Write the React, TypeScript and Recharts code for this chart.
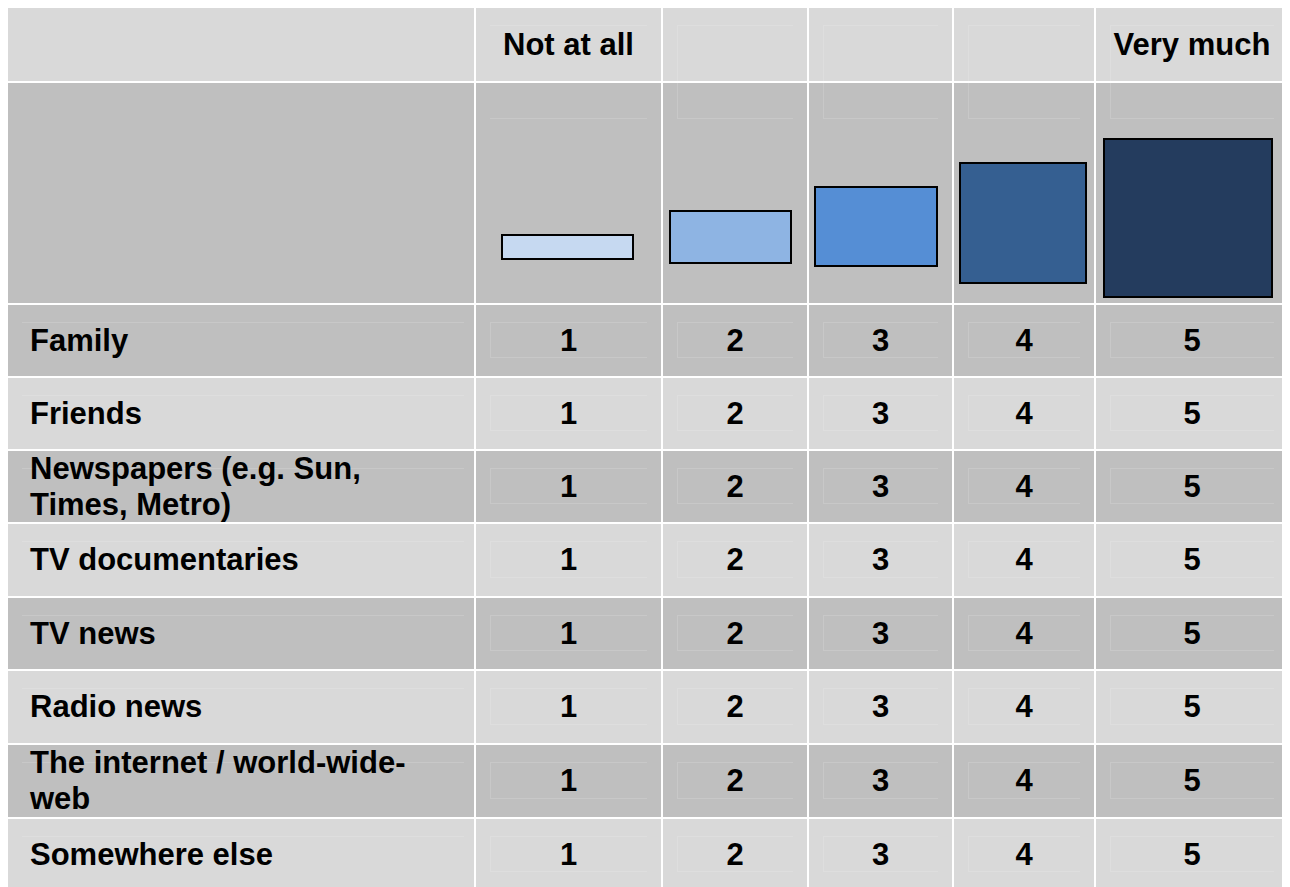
import React from "react";
import { BarChart, Bar, XAxis, YAxis } from "recharts";

// rating scale, columns left to right
const levels = [1, 2, 3, 4, 5];
const scaleLabels = ["Not at all", "", "", "", "Very much"];

// the little stepped blocks in the header (low / high end, in row units 0..220)
const blockLow = [44, 40, 37, 20, 6];
const blockHigh = [68, 92, 116, 140, 164];
const blockColors = ["#c6d9f1", "#8eb4e3", "#558ed5", "#355f91", "#243c5e"];

const sources = [
  "Family",
  "Friends",
  "Newspapers (e.g. Sun,\nTimes, Metro)",
  "TV documentaries",
  "TV news",
  "Radio news",
  "The internet / world-wide-\nweb",
  "Somewhere else",
];

const COL_W = [466, 185, 144, 143, 140, 192];
const ROW_H = [73, 220, 71, 71, 71, 72, 71, 72, 72, 71];
const BAR_MARGIN = [
  { left: 26, right: 28 },
  { left: 7, right: 16 },
  { left: 6, right: 15 },
  { left: 6, right: 8 },
  { left: 8, right: 16 },
];

const LIGHT = "#d9d9d9";
const DARK = "#bfbfbf";

const textStyle: React.CSSProperties = {
  fontFamily: '"Liberation Sans", Arial, sans-serif',
  fontWeight: 700,
  fontSize: 31,
  color: "#000",
};

function Ghost({ style }: { style: React.CSSProperties }) {
  return (
    <div
      style={{
        position: "absolute",
        borderColor: "rgba(255,255,255,0.14)",
        borderStyle: "solid",
        borderWidth: 0,
        pointerEvents: "none",
        ...style,
      }}
    />
  );
}

function LevelBlock({ i }: { i: number }) {
  const data = [{ level: levels[i], range: [blockLow[i], blockHigh[i]] }];
  return (
    <BarChart
      width={COL_W[i + 1]}
      height={ROW_H[1]}
      data={data}
      margin={{ top: 0, bottom: 0, ...BAR_MARGIN[i] }}
      barCategoryGap={0}
    >
      <XAxis dataKey="level" hide />
      <YAxis hide domain={[0, ROW_H[1]]} />
      <Bar
        dataKey="range"
        fill={blockColors[i]}
        stroke="#000"
        strokeWidth={2}
        isAnimationActive={false}
      />
    </BarChart>
  );
}

export default function App() {
  const cell = (bg: string, extra?: React.CSSProperties): React.CSSProperties => ({
    position: "relative",
    background: bg,
    overflow: "hidden",
    ...extra,
  });

  return (
    <div
      style={{
        display: "grid",
        gridTemplateColumns: COL_W.map((w) => `${w}px`).join(" "),
        gridTemplateRows: ROW_H.map((h) => `${h}px`).join(" "),
        gap: 2,
        width: COL_W.reduce((a, b) => a + b, 0) + 10,
        background: "#fff",
        ...textStyle,
      }}
    >
      {/* header row */}
      <div style={cell(LIGHT)} />
      {scaleLabels.map((lab, i) => (
        <div
          key={`h${i}`}
          style={cell(LIGHT, { display: "flex", alignItems: "center", justifyContent: "center" })}
        >
          <Ghost
            style={{ top: 17, left: 14, right: 14, bottom: 0, borderTopWidth: 1, borderLeftWidth: i === 0 ? 0 : 1 }}
          />
          <span style={{ position: "relative" }}>{lab}</span>
        </div>
      ))}

      {/* block row */}
      <div style={cell(DARK)} />
      {levels.map((lv, i) => (
        <div key={`b${lv}`} style={cell(DARK)}>
          <Ghost style={{ top: 0, left: 14, right: 14, height: 35, borderBottomWidth: 1, borderLeftWidth: i === 0 ? 0 : 1 }} />
          <LevelBlock i={i} />
        </div>
      ))}

      {/* one row per source */}
      {sources.map((src, r) => {
        const bg = r % 2 === 0 ? DARK : LIGHT;
        return (
          <React.Fragment key={src}>
            <div
              style={cell(bg, {
                display: "flex",
                alignItems: "center",
                paddingLeft: 22,
                whiteSpace: "pre-line",
                lineHeight: "36px",
              })}
            >
              <Ghost style={{ top: 17, left: 14, right: 10, height: 0, borderTopWidth: 1 }} />
              <span style={{ position: "relative" }}>{src}</span>
            </div>
            {levels.map((lv) => (
              <div
                key={`${src}-${lv}`}
                style={cell(bg, { display: "flex", alignItems: "center", justifyContent: "center" })}
              >
                <Ghost
                  style={{ top: 17, bottom: 18, left: 14, right: 14, borderTopWidth: 1, borderLeftWidth: 1, borderBottomWidth: 1 }}
                />
                <span style={{ position: "relative" }}>{lv}</span>
              </div>
            ))}
          </React.Fragment>
        );
      })}
    </div>
  );
}
